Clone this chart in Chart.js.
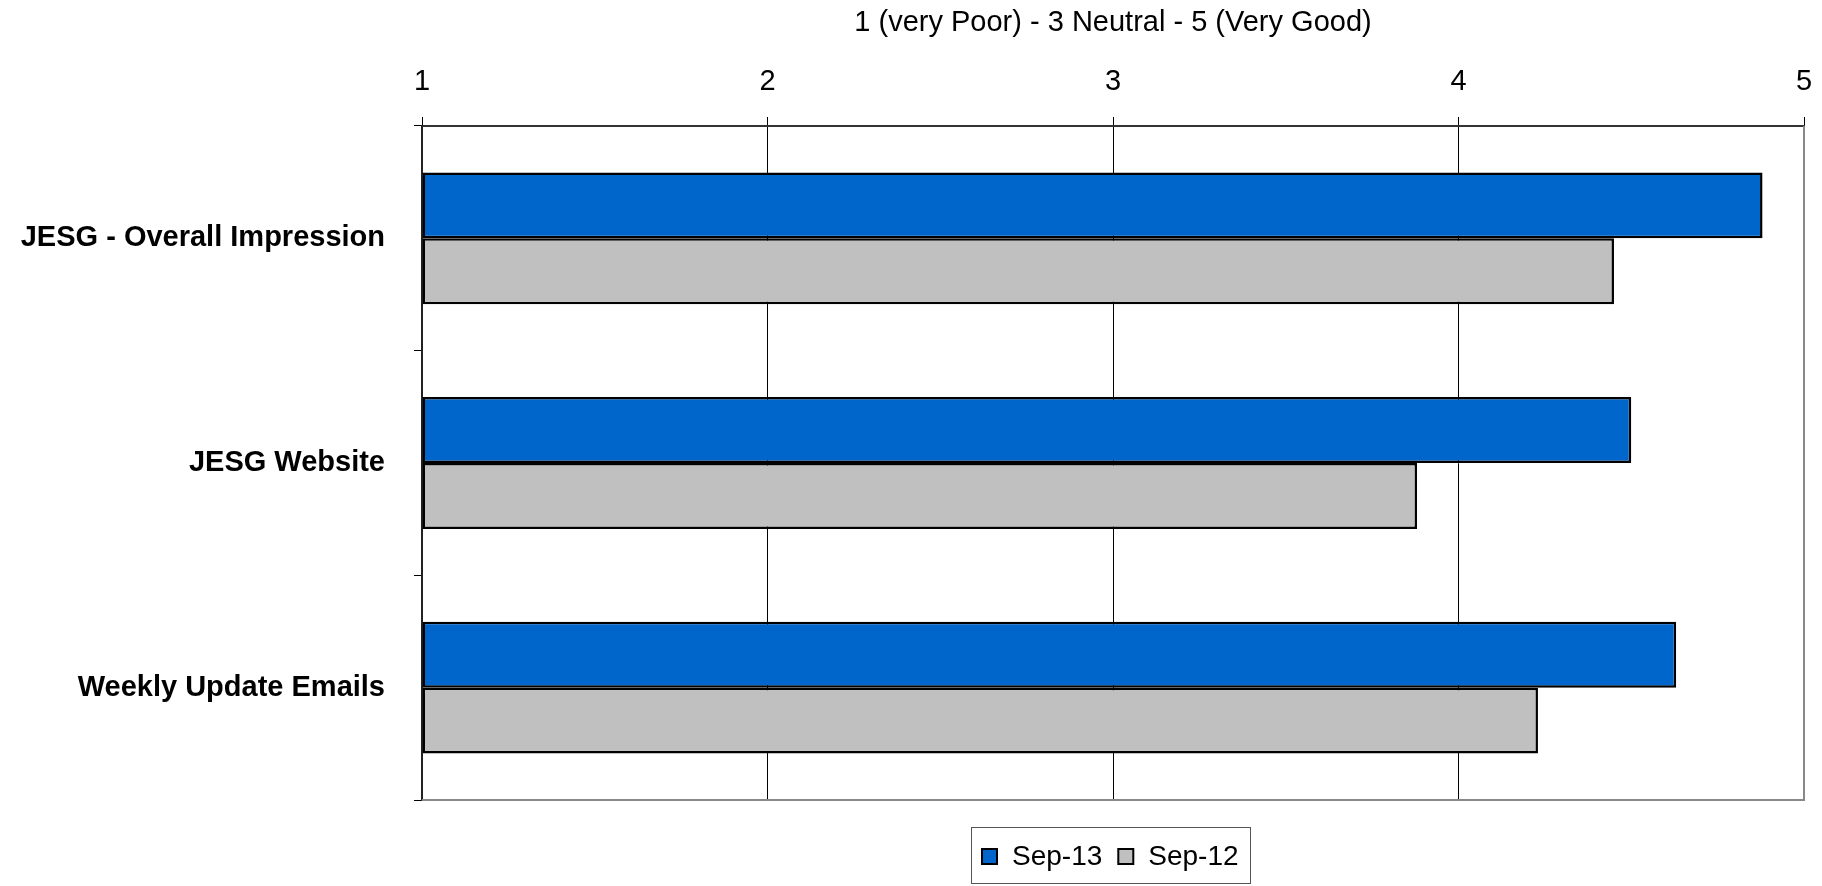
<!DOCTYPE html>
<html>
<head>
<meta charset="utf-8">
<title>JESG survey</title>
<script src="https://cdn.jsdelivr.net/npm/chart.js@4.4.0/dist/chart.umd.min.js"></script>
<style>
  html, body { margin: 0; padding: 0; background: #fff; }
  #wrap { width: 1822px; height: 886px; }
</style>
</head>
<body>
<div id="wrap"><canvas id="surveyChart" width="1822" height="886"></canvas></div>
<script>
const categories = ['JESG - Overall Impression', 'JESG Website', 'Weekly Update Emails'];
const sep13 = [4.88, 4.50, 4.63];
const sep12 = [4.45, 3.88, 4.23];
const scoreTicks = [1, 2, 3, 4, 5];
const seriesNames = ['Sep-13', 'Sep-12'];
const axisTitle = '1 (very Poor) - 3 Neutral - 5 (Very Good)';

const FONT = '"Liberation Sans", Arial, Helvetica, sans-serif';

// gray right/bottom frame of the plot area
const plotFrame = {
    id: 'plotFrame',
    afterDatasetsDraw(chart) {
        const { ctx, chartArea: a } = chart;
        ctx.save();
        ctx.strokeStyle = '#888';
        ctx.lineWidth = 2;
        ctx.beginPath();
        ctx.moveTo(a.left, a.bottom);
        ctx.lineTo(a.right, a.bottom);
        ctx.lineTo(a.right, a.top);
        ctx.stroke();
        ctx.restore();
    }
};

// legend with a box around it, like the spreadsheet one
const boxedLegend = {
    id: 'boxedLegend',
    afterDraw(chart) {
        const { ctx, chartArea: area } = chart;
        ctx.save();
        ctx.font = '28px ' + FONT;
        const sw = 15, gapA = 15, gapB = 16, padX = 11;
        const items = chart.data.datasets.map(ds => ({
            text: ds.label,
            color: ds.backgroundColor,
            w: ctx.measureText(ds.label).width
        }));
        const total = padX * 2 + items.reduce((s, it) => s + sw + gapA + it.w, 0) + gapB * (items.length - 1);
        const cx = (area.left + area.right) / 2 - 3;
        const left = Math.round(cx - total / 2);
        const top = area.bottom + 27;
        ctx.strokeStyle = '#555';
        ctx.lineWidth = 1;
        ctx.strokeRect(left + 0.5, top + 0.5, Math.round(total), 56);

        const base = area.bottom + 65;
        let x = left + padX;
        items.forEach(it => {
            ctx.fillStyle = it.color;
            ctx.fillRect(x, base - 16, sw, sw);
            ctx.strokeStyle = '#000';
            ctx.lineWidth = 2;
            ctx.strokeRect(x, base - 16, sw, sw);
            ctx.fillStyle = '#000';
            ctx.textBaseline = 'alphabetic';
            ctx.fillText(it.text, x + sw + gapA, base);
            x += sw + gapA + it.w + gapB;
        });
        ctx.restore();
    }
};

const chart = new Chart(document.getElementById('surveyChart').getContext('2d'), {
    type: 'bar',
    data: {
        labels: categories,
        datasets: [
            {
                label: seriesNames[0],
                data: sep13,
                backgroundColor: '#0066CC',
                borderColor: '#000',
                borderWidth: 2.5,
                borderSkipped: false,
                base: 1
            },
            {
                label: seriesNames[1],
                data: sep12,
                backgroundColor: '#C0C0C0',
                borderColor: '#000',
                borderWidth: 2.5,
                borderSkipped: false,
                base: 1
            }
        ]
    },
    options: {
        indexAxis: 'y',
        responsive: false,
        animation: false,
        devicePixelRatio: 1,
        barPercentage: 1,
        categoryPercentage: 0.587,
        layout: {
            padding: { top: 0, left: 0, right: 18, bottom: 86 }
        },
        plugins: {
            legend: { display: false },
            tooltip: { enabled: false }
        },
        scales: {
            x: {
                type: 'linear',
                position: 'top',
                min: 1,
                max: 5,
                afterBuildTicks: scale => {
                    scale.ticks = scoreTicks.map(v => ({ value: v }));
                },
                afterFit: scale => {
                    scale.height = 126;
                    scale.paddingLeft = 0;
                    scale.paddingRight = 0;
                },
                grid: {
                    color: '#000',
                    lineWidth: 1,
                    drawTicks: true,
                    tickLength: 9
                },
                border: { display: true, color: '#333', width: 2 },
                ticks: {
                    font: { family: FONT, size: 29 },
                    color: '#000',
                    padding: 18
                },
                title: {
                    display: true,
                    text: axisTitle,
                    font: { family: FONT, size: 29 },
                    color: '#000',
                    padding: { top: 6, bottom: 0 }
                }
            },
            y: {
                type: 'category',
                afterFit: scale => { scale.width = 422; },
                grid: {
                    offset: true,
                    drawOnChartArea: false,
                    drawTicks: true,
                    tickLength: 8,
                    color: '#000'
                },
                border: { display: true, color: '#222', width: 2 },
                ticks: {
                    font: { family: FONT, size: 29, weight: 'bold' },
                    color: '#000',
                    padding: 29
                }
            }
        }
    },
    plugins: [plotFrame, boxedLegend]
});
</script>
</body>
</html>
